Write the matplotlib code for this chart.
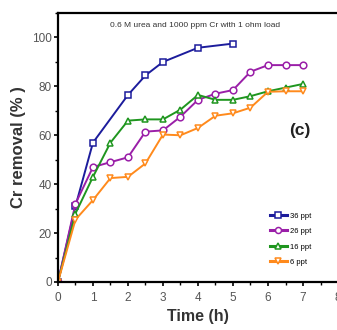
import matplotlib
matplotlib.use("Agg")
import matplotlib.pyplot as plt
from matplotlib.ticker import MultipleLocator

plt.rcParams['font.family'] = ['Liberation Sans', 'DejaVu Sans']

# Tid (h) og Cr-fjernelse (%) for hver saltkoncentration
t_36 = [0, 0.5, 1, 2, 2.5, 3, 4, 5]
cr_36 = [0, 31, 57, 76.5, 84.5, 90, 95.8, 97.5]

t_rest = [0, 0.5, 1, 1.5, 2, 2.5, 3, 3.5, 4, 4.5, 5, 5.5, 6, 6.5, 7]
cr_26 = [0, 32, 47, 49, 51, 61.5, 62, 67.6, 74.5, 77, 78.5, 86, 88.7, 88.7, 88.7]
cr_16 = [0, 28, 43, 57, 66, 66.5, 66.5, 70.5, 76.5, 74.5, 74.5, 76, 78, 79.5, 81]
cr_6 = [0, 25.5, 33.5, 42.5, 43, 48.5, 60.3, 60, 63, 68, 69, 71.3, 77.8, 78, 78]

labels = ["36 ppt", "26 ppt", "16 ppt", "6 ppt"]

fig = plt.figure(figsize=(3.37, 3.30), dpi=100)
ax = fig.add_axes([0.172, 0.1455, 0.831, 0.815])

serier = [
    (t_36, cr_36, "#1c1c9c", "s"),
    (t_rest, cr_26, "#9a1fa8", "o"),
    (t_rest, cr_16, "#1f961f", "^"),
    (t_rest, cr_6, "#ff8a1c", "v"),
]
for (t, cr, farve, mark), navn in zip(serier, labels):
    ax.plot(t, cr, color=farve, marker=mark, markersize=4.8, markerfacecolor="white",
            markeredgewidth=1.1, linewidth=1.4, label=navn)

ax.set_xlim(0, 8)
ax.set_ylim(0, 110)
ax.xaxis.set_major_locator(MultipleLocator(1))
ax.xaxis.set_minor_locator(MultipleLocator(0.5))
ax.yaxis.set_major_locator(MultipleLocator(20))
ax.yaxis.set_minor_locator(MultipleLocator(10))
ax.set_yticks([0, 20, 40, 60, 80, 100])
ax.tick_params(which="major", direction="out", length=3, width=1.2, labelsize=8.5,
               labelcolor="#555555")
ax.tick_params(axis="x", which="major", pad=4)
ax.tick_params(axis="y", which="major", pad=1.5)
ax.tick_params(which="minor", direction="out", length=2, width=1.0)
for s in ax.spines.values():
    s.set_linewidth(1.6)

ax.set_xlabel("Time (h)", fontsize=11.5, fontweight="bold", labelpad=4, color="#333333")
ax.set_ylabel("Cr removal (% )", fontsize=12, fontweight="bold", labelpad=4, color="#333333")

ax.text(0.49, 0.965, "0.6 M urea and 1000 ppm Cr with 1 ohm load", transform=ax.transAxes,
        ha="center", va="top", fontsize=6, color="#333333")
ax.text(0.865, 0.565, "(c)", transform=ax.transAxes, ha="center", va="center",
        fontsize=12.5, fontweight="bold", color="#222222")

leg = ax.legend(loc="upper left", bbox_to_anchor=(0.745, 0.27), frameon=False, fontsize=5.5,
                handlelength=2.3, handletextpad=0.3, labelspacing=1.05, borderaxespad=0,
                markerscale=0.9)
for linje in leg.get_lines():
    linje.set_linewidth(2.2)

fig.savefig("out.png", dpi=100)
